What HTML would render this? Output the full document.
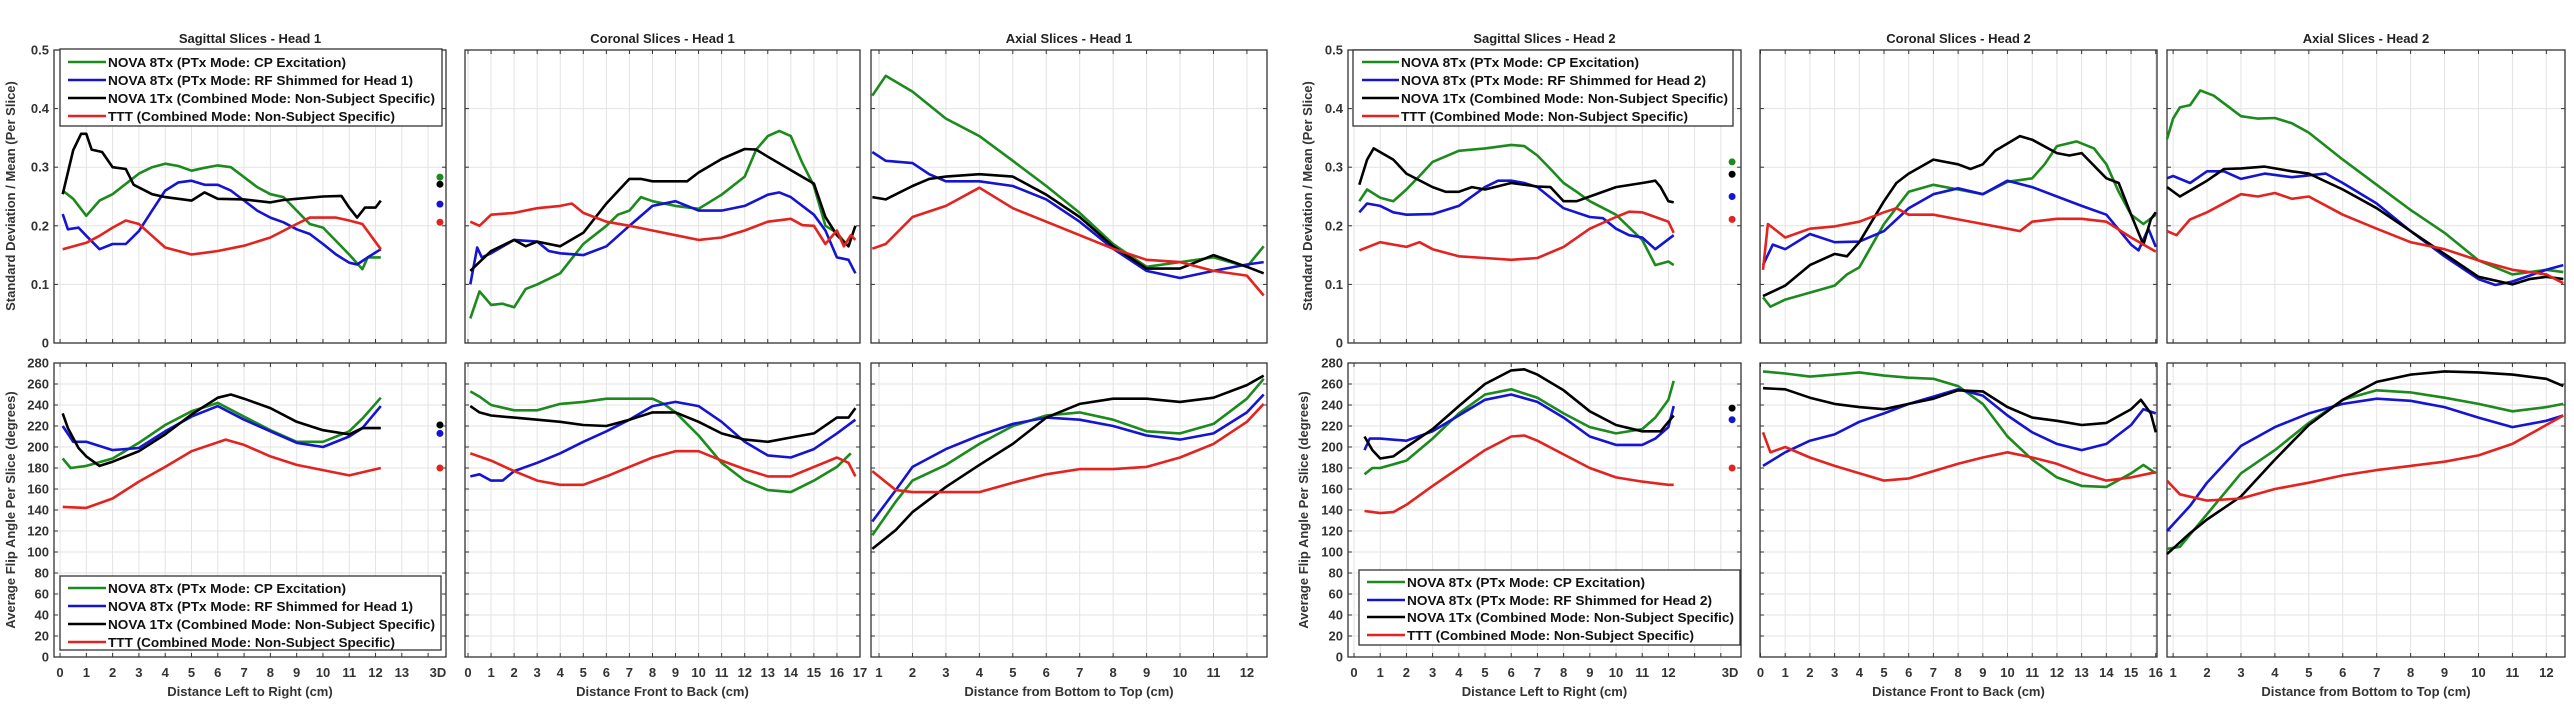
<!DOCTYPE html>
<html><head><meta charset="utf-8">
<style>
html,body{margin:0;padding:0;background:#fff;}
svg{display:block;font-family:"Liberation Sans",sans-serif;}
</style></head>
<body>
<svg id="fig" width="2574" height="707" viewBox="0 0 2574 707" xmlns="http://www.w3.org/2000/svg"></svg>
<script>
// ---------- DATA ----------
// Head 1 Sagittal - Std/Mean
const h1SagStdGreenX=[0.1,0.5,1,1.5,2,3,3.5,4,4.5,5,5.5,6,6.5,7,7.5,8,8.5,9,9.5,10,10.5,11,11.5,11.7,12.2];
const h1SagStdGreenY=[0.26,0.246,0.217,0.243,0.254,0.289,0.3,0.306,0.302,0.294,0.299,0.303,0.3,0.283,0.266,0.254,0.249,0.226,0.203,0.197,0.174,0.151,0.126,0.146,0.146];
const h1SagStdBlueX=[0.1,0.3,0.7,1,1.5,2,2.5,3,3.5,4,4.5,5,5.5,6,6.5,7,7.5,8,8.5,9,9.5,10,10.5,11,11.3,11.7,12.2];
const h1SagStdBlueY=[0.22,0.194,0.197,0.183,0.16,0.169,0.169,0.191,0.226,0.26,0.274,0.277,0.27,0.27,0.26,0.243,0.226,0.214,0.206,0.194,0.186,0.169,0.151,0.137,0.134,0.146,0.16];
const h1SagStdBlackX=[0.1,0.5,0.8,1,1.2,1.6,2,2.5,2.8,3.5,4,5,5.5,6,7,8,8.5,9,10,10.7,11,11.3,11.6,12,12.2];
const h1SagStdBlackY=[0.254,0.329,0.357,0.357,0.33,0.326,0.3,0.297,0.27,0.254,0.249,0.243,0.257,0.246,0.245,0.24,0.244,0.246,0.25,0.251,0.231,0.214,0.231,0.231,0.243];
const h1SagStdRedX=[0.1,1,1.5,2,2.5,3,3.5,4,5,5.5,6,7,8,9,9.5,10,10.5,11,11.5,12.2];
const h1SagStdRedY=[0.16,0.171,0.183,0.197,0.209,0.203,0.183,0.163,0.151,0.154,0.157,0.166,0.18,0.203,0.214,0.214,0.214,0.209,0.203,0.16];
// Head 1 Sagittal - Flip angle
const h1SagFaGreenX=[0.1,0.4,1,2,3,4,5,6,7,8,9,10,11,11.5,12.2];
const h1SagFaGreenY=[189,180,182,189,204,221,234,242,229,216,205,205,215,227,247];
const h1SagFaBlueX=[0.1,0.5,1,2,3,4,5,6,7,8,9,10,11,11.5,12.2];
const h1SagFaBlueY=[220,205,205,197,199,215,229,239,226,215,204,200,210,218,239];
const h1SagFaBlackX=[0.1,0.3,0.7,1,1.5,2,3,4,5,6,6.5,7,8,9,10,11,11.5,12.2];
const h1SagFaBlackY=[232,218,199,191,182,186,196,212,231,247,250,246,237,224,216,212,218,218];
const h1SagFaRedX=[0.1,1,2,3,4,5,6.3,7,8,9,10,11,12.2];
const h1SagFaRedY=[143,142,151,167,181,196,207,202,191,183,178,173,180];
// Head 1 Coronal - Std/Mean
const h1CorStdGreenX=[0.1,0.5,1,1.5,2,2.5,3,4,5,6,6.5,7,7.5,8,9,10,11,12,12.5,13,13.5,14,14.5,15,15.5,16,16.4];
const h1CorStdGreenY=[0.042,0.088,0.065,0.067,0.061,0.092,0.1,0.119,0.169,0.2,0.219,0.226,0.249,0.242,0.234,0.229,0.253,0.284,0.33,0.353,0.362,0.353,0.307,0.268,0.2,0.188,0.169];
const h1CorStdBlueX=[0.1,0.4,0.6,1,2,3,3.5,4,5,6,7,8,9,10,11,12,13,13.5,14,15,15.5,16,16.5,16.8];
const h1CorStdBlueY=[0.1,0.163,0.146,0.153,0.176,0.173,0.157,0.153,0.15,0.165,0.2,0.234,0.242,0.226,0.226,0.234,0.253,0.257,0.249,0.219,0.192,0.146,0.142,0.119];
const h1CorStdBlackX=[0.1,0.5,1,2,2.5,3,4,5,6,7,7.5,8,9,9.5,10,11,12,12.5,13,14,15,15.5,16,16.5,16.8];
const h1CorStdBlackY=[0.123,0.138,0.157,0.176,0.165,0.173,0.165,0.188,0.238,0.28,0.28,0.276,0.276,0.276,0.291,0.314,0.331,0.33,0.318,0.295,0.272,0.215,0.184,0.165,0.2];
const h1CorStdRedX=[0.1,0.5,1,2,3,4,4.5,5,6,7,8,9,10,11,12,13,14,14.5,15,15.5,16,16.3,16.6,16.8];
const h1CorStdRedY=[0.207,0.2,0.219,0.222,0.23,0.234,0.238,0.222,0.207,0.2,0.192,0.184,0.176,0.18,0.192,0.207,0.212,0.201,0.2,0.169,0.192,0.165,0.184,0.176];
// Head 1 Coronal - Flip angle
const h1CorFaGreenX=[0.1,0.5,1,2,3,4,5,6,7,8,8.5,9,10,11,12,13,14,15,16,16.6];
const h1CorFaGreenY=[253,248,240,235,235,241,243,246,246,246,241,233,211,185,168,159,157,168,181,194];
const h1CorFaBlueX=[0.1,0.5,1,1.5,2,3,4,5,6,7,8,9,10,11,12,13,14,15,16,16.8];
const h1CorFaBlueY=[172,174,168,168,177,185,194,205,215,226,239,243,239,224,205,192,190,198,213,226];
const h1CorFaBlackX=[0.1,0.5,1,2,3,4,5,6,7,8,9,10,11,12,13,14,15,16,16.5,16.8];
const h1CorFaBlackY=[239,233,230,228,226,224,221,220,226,233,233,224,213,207,205,209,213,228,228,237];
const h1CorFaRedX=[0.1,1,2,3,4,5,6,7,8,9,10,11,12,13,14,15,16,16.5,16.8];
const h1CorFaRedY=[194,187,177,168,164,164,172,181,190,196,196,187,179,172,172,181,190,185,172];
// Head 1 Axial - Std/Mean
const h1AxStdGreenX=[0.8,1.2,2,3,4,5,6,7,8,9,10,11,12,12.5];
const h1AxStdGreenY=[0.422,0.456,0.429,0.383,0.353,0.311,0.268,0.222,0.169,0.13,0.138,0.146,0.13,0.165];
const h1AxStdBlueX=[0.8,1.2,2,2.5,3,4,5,6,7,8,9,10,11,12,12.5];
const h1AxStdBlueY=[0.326,0.311,0.307,0.288,0.276,0.276,0.268,0.245,0.207,0.161,0.123,0.111,0.123,0.134,0.138];
const h1AxStdBlackX=[0.8,1.2,2,2.5,3,4,5,6,7,8,9,10,11,12,12.5];
const h1AxStdBlackY=[0.249,0.245,0.268,0.28,0.284,0.288,0.284,0.253,0.215,0.165,0.127,0.127,0.15,0.13,0.119];
const h1AxStdRedX=[0.8,1.2,2,3,4,5,6,7,8,9,10,11,12,12.5];
const h1AxStdRedY=[0.161,0.169,0.215,0.234,0.265,0.23,0.207,0.184,0.161,0.142,0.138,0.123,0.115,0.081];
// Head 1 Axial - Flip angle
const h1AxFaGreenX=[0.8,1.5,2,3,4,5,6,7,8,9,10,11,12,12.5];
const h1AxFaGreenY=[116,148,168,183,203,220,230,233,226,215,213,222,246,265];
const h1AxFaBlueX=[0.8,1.5,2,3,4,5,6,7,8,9,10,11,12,12.5];
const h1AxFaBlueY=[129,159,181,198,211,222,228,226,220,211,207,213,233,250];
const h1AxFaBlackX=[0.8,1.5,2,3,4,5,6,7,8,9,10,11,12,12.5];
const h1AxFaBlackY=[103,121,138,162,183,203,228,241,246,246,243,247,259,268];
const h1AxFaRedX=[0.8,1.5,2,3,4,5,6,7,8,9,10,11,12,12.5];
const h1AxFaRedY=[177,159,157,157,157,166,174,179,179,181,190,203,224,241];
// Head 2 Sagittal - Std/Mean
const h2SagStdGreenX=[0.2,0.5,1,1.5,2,2.5,3,4,5,6,6.5,7,7.5,8,8.5,9,10,11,11.5,12,12.2];
const h2SagStdGreenY=[0.242,0.262,0.248,0.242,0.262,0.285,0.309,0.328,0.332,0.338,0.336,0.32,0.297,0.273,0.258,0.242,0.219,0.176,0.133,0.139,0.133];
const h2SagStdBlueX=[0.2,0.5,1,1.5,2,3,4,5,5.5,6,6.5,7,8,9,9.5,10,10.5,11,11.5,12.2];
const h2SagStdBlueY=[0.223,0.238,0.234,0.223,0.219,0.22,0.234,0.266,0.277,0.277,0.273,0.266,0.23,0.215,0.213,0.195,0.184,0.18,0.16,0.184];
const h2SagStdBlackX=[0.2,0.5,0.75,1.5,2,3,3.5,4,4.5,5,6,7,7.5,8,8.5,9,10,11,11.5,11.7,12,12.2];
const h2SagStdBlackY=[0.27,0.313,0.332,0.313,0.289,0.266,0.258,0.258,0.266,0.262,0.273,0.267,0.266,0.242,0.242,0.25,0.266,0.273,0.277,0.266,0.242,0.24];
const h2SagStdRedX=[0.2,1,2,2.5,3,4,5,6,7,8,9,10,10.5,11,11.5,12,12.2];
const h2SagStdRedY=[0.158,0.172,0.164,0.172,0.16,0.148,0.145,0.142,0.145,0.164,0.195,0.215,0.224,0.223,0.215,0.207,0.188];
// Head 2 Sagittal - Flip angle
const h2SagFaGreenX=[0.4,0.7,1,2,3,4,5,6,7,8,9,10,11,11.5,12,12.2];
const h2SagFaGreenY=[174,180,180,187,208,232,250,255,247,232,219,213,217,228,245,263];
const h2SagFaBlueX=[0.4,0.6,1,2,3,4,5,6,7,8,9,10,11,11.5,12,12.2];
const h2SagFaBlueY=[197,208,208,206,215,230,245,250,243,228,210,202,202,208,219,239];
const h2SagFaBlackX=[0.4,0.7,1,1.5,2,3,4,5,6,6.5,7,8,9,10,11,11.7,12,12.2];
const h2SagFaBlackY=[210,197,189,191,200,217,239,260,273,274,269,254,234,221,215,215,224,230];
const h2SagFaRedX=[0.4,1,1.5,2,3,4,5,6,6.5,7,8,9,10,11,12,12.2];
const h2SagFaRedY=[139,137,138,145,163,180,197,210,211,206,193,180,171,167,164,164];
// Head 2 Coronal - Std/Mean
const h2CorStdGreenX=[0.1,0.4,1,2,3,3.5,4,5,6,7,8,9,10,11,11.5,12,12.8,13.5,14,14.5,15,15.5,16];
const h2CorStdGreenY=[0.078,0.062,0.074,0.086,0.098,0.117,0.129,0.203,0.258,0.27,0.262,0.254,0.275,0.281,0.305,0.336,0.344,0.332,0.305,0.258,0.219,0.203,0.219];
const h2CorStdBlueX=[0.1,0.5,1,2,3,4,5,6,7,8,9,10,11,12,13,14,15,15.3,15.7,16];
const h2CorStdBlueY=[0.133,0.168,0.16,0.186,0.172,0.173,0.191,0.23,0.254,0.264,0.254,0.277,0.266,0.25,0.234,0.219,0.168,0.158,0.195,0.164];
const h2CorStdBlackX=[0.1,1,2,3,3.5,4,5,5.5,6,7,8,8.5,9,9.5,10.5,11,12,12.5,13,14,14.5,15,15.5,15.8,16];
const h2CorStdBlackY=[0.08,0.098,0.133,0.152,0.148,0.172,0.242,0.273,0.289,0.313,0.305,0.297,0.305,0.328,0.353,0.347,0.324,0.32,0.324,0.281,0.273,0.219,0.168,0.211,0.223];
const h2CorStdRedX=[0.1,0.3,1,2,3,4,5,5.5,6,7,8,9,10,10.5,11,12,13,14,15,16];
const h2CorStdRedY=[0.125,0.203,0.18,0.195,0.199,0.207,0.223,0.23,0.219,0.219,0.211,0.203,0.195,0.191,0.207,0.212,0.212,0.207,0.18,0.156];
// Head 2 Coronal - Flip angle
const h2CorFaGreenX=[0.1,1,2,3,4,5,6,7,8,9,10,11,12,13,14,15,15.5,16];
const h2CorFaGreenY=[272,270,267,269,271,268,266,265,258,241,210,188,171,163,162,175,183,175];
const h2CorFaBlueX=[0.1,1,2,3,4,5,6,7,8,9,10,11,12,13,14,15,15.5,16];
const h2CorFaBlueY=[182,195,206,212,224,232,241,248,255,249,230,214,203,197,203,221,236,232];
const h2CorFaBlackX=[0.1,1,2,3,4,5,6,7,8,9,10,11,12,13,14,15,15.4,15.8,16];
const h2CorFaBlackY=[256,255,247,241,238,236,241,246,254,253,238,228,225,221,223,236,245,232,214];
const h2CorFaRedX=[0.1,0.4,1,2,3,4,5,6,7,8,9,10,11,12,13,14,15,16];
const h2CorFaRedY=[214,195,200,190,182,175,168,170,177,184,190,195,190,184,175,168,171,176];
// Head 2 Axial - Std/Mean
const h2AxStdGreenX=[0.82,1,1.2,1.5,1.8,2.2,3,3.5,4,4.5,5,6,7,8,9,10,10.5,11,12,12.5];
const h2AxStdGreenY=[0.348,0.383,0.402,0.406,0.431,0.422,0.387,0.383,0.384,0.375,0.359,0.313,0.27,0.227,0.188,0.141,0.129,0.117,0.125,0.121];
const h2AxStdBlueX=[0.82,1,1.5,2,2.5,3,3.7,4.5,5.5,6,7,8,9,10,10.5,11,12,12.5];
const h2AxStdBlueY=[0.281,0.285,0.273,0.293,0.293,0.28,0.289,0.283,0.289,0.273,0.238,0.191,0.148,0.109,0.099,0.105,0.125,0.133];
const h2AxStdBlackX=[0.82,1.2,2,2.5,3,3.7,4.5,5,6,7,8,9,10,11,11.5,12,12.5];
const h2AxStdBlackY=[0.266,0.25,0.277,0.297,0.298,0.301,0.293,0.289,0.262,0.23,0.191,0.152,0.113,0.1,0.109,0.113,0.109];
const h2AxStdRedX=[0.82,1.1,1.5,2,3,3.5,4,4.5,5,6,7,8,9,10,11,12,12.5];
const h2AxStdRedY=[0.191,0.184,0.211,0.223,0.254,0.25,0.256,0.246,0.25,0.219,0.195,0.172,0.16,0.141,0.125,0.117,0.102];
// Head 2 Axial - Flip angle
const h2AxFaGreenX=[0.82,1.2,2,3,4,5,6,7,8,9,10,11,12,12.5];
const h2AxFaGreenY=[103,105,136,175,197,223,245,254,252,247,241,234,238,241];
const h2AxFaBlueX=[0.82,1.5,2,3,4,5,6,7,8,9,10,11,12,12.5];
const h2AxFaBlueY=[120,144,166,201,219,232,241,246,244,238,228,219,225,230];
const h2AxFaBlackX=[0.82,1.5,2,3,4,5,6,7,8,9,10,11,12,12.5];
const h2AxFaBlackY=[98,118,131,153,188,221,245,262,269,272,271,269,265,258];
const h2AxFaRedX=[0.82,1.2,2,3,4,5,6,7,8,9,10,11,12,12.5];
const h2AxFaRedY=[168,155,149,151,160,166,173,178,182,186,192,203,221,230];
// 3D whole-volume markers (order: green, blue, black, red)
const h1Std3D=[0.283,0.237,0.271,0.206];
const h1Fa3D=[221,213,221,180];
const h2Std3D=[0.309,0.25,0.288,0.211];
const h2Fa3D=[null,226,237,180];
// Tick labels
const stdTicks=[0,0.1,0.2,0.3,0.4,0.5];
const faTicks=[0,20,40,60,80,100,120,140,160,180,200,220,240,260,280];
const seriesNames=["green","blue","black","red"];

// ---------- RENDER ----------
const NS="http://www.w3.org/2000/svg";
const svg=document.getElementById('fig');
const COL={green:"#1c8a1c",blue:"#1414d2",black:"#000000",red:"#e3231f"};
function mk(tag,attrs,parent){const e=document.createElementNS(NS,tag);for(const k in attrs)e.setAttribute(k,attrs[k]);(parent||svg).appendChild(e);return e;}
const ROWS={std:{y0:343,y1:50,min:0,max:0.5,ticks:stdTicks},fa:{y0:657,y1:363,min:0,max:280,ticks:faTicks}};
const panels=[
 {id:"h1-sagittal",head:1,px0:54,px1:446,d0:-0.23,d1:14.68,xt:[0,1,2,3,4,5,6,7,8,9,10,11,12,13],grid:[0,1,2,3,4,5,6,7,8,9,10,11,12,13,14],td:14.45,title:"Sagittal Slices - Head 1",xl:"Distance Left to Right (cm)",key:"h1Sag",ylab:true},
 {id:"h1-coronal",head:1,px0:465,px1:860,d0:-0.13,d1:17.0,xt:[0,1,2,3,4,5,6,7,8,9,10,11,12,13,14,15,16,17],title:"Coronal Slices - Head 1",xl:"Distance Front to Back (cm)",key:"h1Cor"},
 {id:"h1-axial",head:1,px0:871,px1:1267,d0:0.76,d1:12.6,xt:[1,2,3,4,5,6,7,8,9,10,11,12],title:"Axial Slices - Head 1",xl:"Distance from Bottom to Top (cm)",key:"h1Ax"},
 {id:"h2-sagittal",head:2,px0:1348,px1:1741,d0:-0.23,d1:14.77,xt:[0,1,2,3,4,5,6,7,8,9,10,11,12],grid:[0,1,2,3,4,5,6,7,8,9,10,11,12,13,14],td:14.43,title:"Sagittal Slices - Head 2",xl:"Distance Left to Right (cm)",key:"h2Sag",ylab:true},
 {id:"h2-coronal",head:2,px0:1760,px1:2157,d0:-0.02,d1:16.05,xt:[0,1,2,3,4,5,6,7,8,9,10,11,12,13,14,15,16],title:"Coronal Slices - Head 2",xl:"Distance Front to Back (cm)",key:"h2Cor"},
 {id:"h2-axial",head:2,px0:2167,px1:2565,d0:0.82,d1:12.55,xt:[1,2,3,4,5,6,7,8,9,10,11,12],title:"Axial Slices - Head 2",xl:"Distance from Bottom to Top (cm)",key:"h2Ax"}
];
const DATA={
 h1Sag:{std:[h1SagStdGreenX,h1SagStdGreenY,h1SagStdBlueX,h1SagStdBlueY,h1SagStdBlackX,h1SagStdBlackY,h1SagStdRedX,h1SagStdRedY],fa:[h1SagFaGreenX,h1SagFaGreenY,h1SagFaBlueX,h1SagFaBlueY,h1SagFaBlackX,h1SagFaBlackY,h1SagFaRedX,h1SagFaRedY]},
 h1Cor:{std:[h1CorStdGreenX,h1CorStdGreenY,h1CorStdBlueX,h1CorStdBlueY,h1CorStdBlackX,h1CorStdBlackY,h1CorStdRedX,h1CorStdRedY],fa:[h1CorFaGreenX,h1CorFaGreenY,h1CorFaBlueX,h1CorFaBlueY,h1CorFaBlackX,h1CorFaBlackY,h1CorFaRedX,h1CorFaRedY]},
 h1Ax:{std:[h1AxStdGreenX,h1AxStdGreenY,h1AxStdBlueX,h1AxStdBlueY,h1AxStdBlackX,h1AxStdBlackY,h1AxStdRedX,h1AxStdRedY],fa:[h1AxFaGreenX,h1AxFaGreenY,h1AxFaBlueX,h1AxFaBlueY,h1AxFaBlackX,h1AxFaBlackY,h1AxFaRedX,h1AxFaRedY]},
 h2Sag:{std:[h2SagStdGreenX,h2SagStdGreenY,h2SagStdBlueX,h2SagStdBlueY,h2SagStdBlackX,h2SagStdBlackY,h2SagStdRedX,h2SagStdRedY],fa:[h2SagFaGreenX,h2SagFaGreenY,h2SagFaBlueX,h2SagFaBlueY,h2SagFaBlackX,h2SagFaBlackY,h2SagFaRedX,h2SagFaRedY]},
 h2Cor:{std:[h2CorStdGreenX,h2CorStdGreenY,h2CorStdBlueX,h2CorStdBlueY,h2CorStdBlackX,h2CorStdBlackY,h2CorStdRedX,h2CorStdRedY],fa:[h2CorFaGreenX,h2CorFaGreenY,h2CorFaBlueX,h2CorFaBlueY,h2CorFaBlackX,h2CorFaBlackY,h2CorFaRedX,h2CorFaRedY]},
 h2Ax:{std:[h2AxStdGreenX,h2AxStdGreenY,h2AxStdBlueX,h2AxStdBlueY,h2AxStdBlackX,h2AxStdBlackY,h2AxStdRedX,h2AxStdRedY],fa:[h2AxFaGreenX,h2AxFaGreenY,h2AxFaBlueX,h2AxFaBlueY,h2AxFaBlackX,h2AxFaBlackY,h2AxFaRedX,h2AxFaRedY]}
};
const M3D={h1Sag:{std:h1Std3D,fa:h1Fa3D},h2Sag:{std:h2Std3D,fa:h2Fa3D}};

panels.forEach(p=>{
  const sx=v=>p.px0+(v-p.d0)/(p.d1-p.d0)*(p.px1-p.px0);
  // title
  let t=mk('text',{x:(p.px0+p.px1)/2,y:43,'text-anchor':'middle','font-size':13,'font-weight':'bold',fill:'#222'});
  t.textContent=p.title;
  
  
  ['std','fa'].forEach(rk=>{
    const r=ROWS[rk];
    const sy=v=>r.y0+(v-r.min)/(r.max-r.min)*(r.y1-r.y0);
    const g=mk('g',{});
    
    
    mk('rect',{x:p.px0,y:r.y1,width:p.px1-p.px0,height:r.y0-r.y1,fill:'#fff'},g);
    const gl=p.grid||p.xt;
    gl.forEach(v=>{const x=sx(v);if(x<p.px0||x>p.px1)return;
      mk('line',{x1:x,x2:x,y1:r.y1,y2:r.y0,stroke:'#e3e3e3','stroke-width':1},g);
      mk('line',{x1:x,x2:x,y1:r.y0,y2:r.y0-4,stroke:'#333','stroke-width':1},g);
      mk('line',{x1:x,x2:x,y1:r.y1,y2:r.y1+4,stroke:'#333','stroke-width':1},g);});
    r.ticks.forEach(v=>{const y=sy(v);
      mk('line',{x1:p.px0,x2:p.px1,y1:y,y2:y,stroke:'#e3e3e3','stroke-width':1},g);
      mk('line',{x1:p.px0,x2:p.px0+4,y1:y,y2:y,stroke:'#333','stroke-width':1},g);
      mk('line',{x1:p.px1,x2:p.px1-4,y1:y,y2:y,stroke:'#333','stroke-width':1},g);
      if(p.ylab){const tl=mk('text',{x:p.px0-5,y:y+4.5,'text-anchor':'end','font-size':13,'font-weight':'bold',fill:'#333'},g);
        tl.textContent=String(v);
        
        }
    });
    mk('rect',{x:p.px0,y:r.y1,width:p.px1-p.px0,height:r.y0-r.y1,fill:'none',stroke:'#333','stroke-width':1.3},g);
    const arrs=DATA[p.key][rk];
    seriesNames.forEach((s,i)=>{
      const xs=arrs[i*2],ys=arrs[i*2+1];
      const pts=xs.map((x,j)=>sx(x).toFixed(1)+','+sy(ys[j]).toFixed(1)).join(' ');
      const pl=mk('polyline',{points:pts,fill:'none',stroke:COL[s],'stroke-width':2.6,'stroke-linejoin':'round'},g);
      
      
    });
    if(M3D[p.key]){
      const mv=M3D[p.key][rk];
      seriesNames.forEach((s,i)=>{ if(mv[i]==null)return;
        const c=mk('circle',{cx:sx(p.td),cy:sy(mv[i]),r:3.5,fill:COL[s]},g);
        
        });
    }
  });
  // x tick labels
  p.xt.forEach(v=>{const tl=mk('text',{x:sx(v),y:677,'text-anchor':'middle','font-size':13,'font-weight':'bold',fill:'#333'});
    tl.textContent=String(v);
    
    });
  if(p.td){const tl=mk('text',{x:sx(p.td)-2,y:677,'text-anchor':'middle','font-size':13,'font-weight':'bold',fill:'#333'});
    tl.textContent='3D';
    
    }
  const xl=mk('text',{x:(p.px0+p.px1)/2,y:696,'text-anchor':'middle','font-size':13,'font-weight':'bold',fill:'#333'});
  xl.textContent=p.xl;
  
  
});

// y axis titles
[[15,196,"Standard Deviation / Mean (Per Slice)"],[15,510,"Average Flip Angle Per Slice (degrees)"],[1312,196,"Standard Deviation / Mean (Per Slice)"],[1308,510,"Average Flip Angle Per Slice (degrees)"]].forEach((a,i)=>{
  const t=mk('text',{x:a[0],y:a[1],'text-anchor':'middle','font-size':13,'font-weight':'bold',fill:'#333',transform:'rotate(-90 '+a[0]+' '+a[1]+')'});
  t.textContent=a[2];
  
  
});

// legends
const legTexts={1:["NOVA 8Tx (PTx Mode: CP Excitation)","NOVA 8Tx (PTx Mode: RF Shimmed for Head 1)","NOVA 1Tx (Combined Mode: Non-Subject Specific)","TTT (Combined Mode: Non-Subject Specific)"],
 2:["NOVA 8Tx (PTx Mode: CP Excitation)","NOVA 8Tx (PTx Mode: RF Shimmed for Head 2)","NOVA 1Tx (Combined Mode: Non-Subject Specific)","TTT (Combined Mode: Non-Subject Specific)"]};
const legW=[238,305,327,287];
[{h:1,x0:60,x1:442,y0:49,y1:126,rows:[62,80,98,116],lx:68,tx:108},
 {h:1,x0:60,x1:441,y0:576,y1:650,rows:[588,606,624,642],lx:68,tx:108},
 {h:2,x0:1353,x1:1733,y0:50,y1:126,rows:[62,80,98,116],lx:1362,tx:1401},
 {h:2,x0:1359,x1:1740,y0:570,y1:645,rows:[582,600,617,635],lx:1367,tx:1407}].forEach((L,k)=>{
  const g=mk('g',{});
  
  
  mk('rect',{x:L.x0,y:L.y0,width:L.x1-L.x0,height:L.y1-L.y0,fill:'#fff',stroke:'#333','stroke-width':1.3},g);
  seriesNames.forEach((s,i)=>{
    const e=mk('g',{},g);
    
    
    mk('line',{x1:L.lx,x2:L.tx-2,y1:L.rows[i],y2:L.rows[i],stroke:COL[s],'stroke-width':2.6},e);
    const t=mk('text',{x:L.tx,y:L.rows[i]+5,'font-size':13,'font-weight':'bold',fill:'#111',textLength:legW[i],lengthAdjust:'spacingAndGlyphs'},e);
    t.textContent=legTexts[L.h][i];
  });
});
</script>
</body></html>
